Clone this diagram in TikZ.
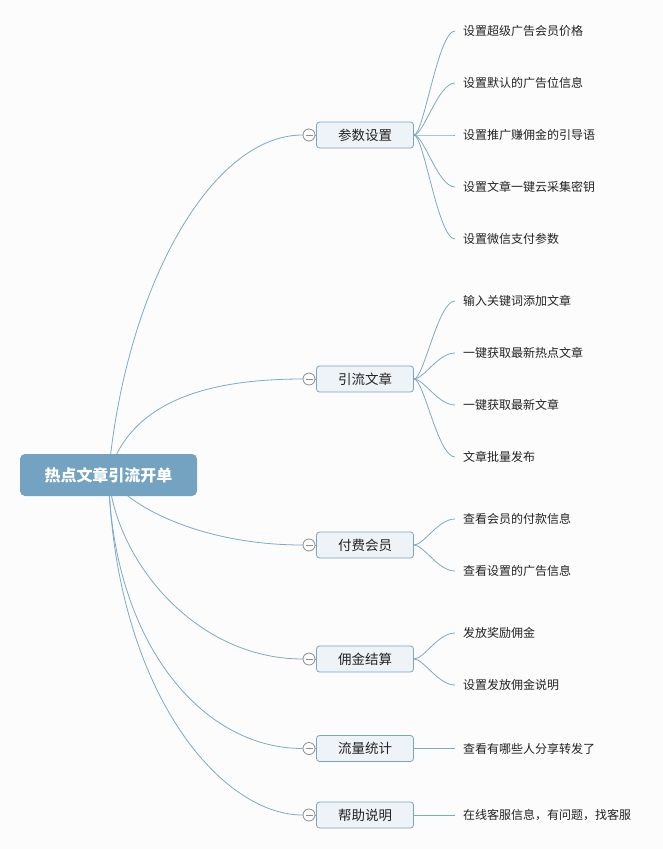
\documentclass[tikz,border=0pt]{standalone}
\usepackage{fontspec}
\setmainfont{Noto Sans CJK SC}
\usetikzlibrary{calc}
\definecolor{linec}{HTML}{7FA8C6}
\definecolor{rootc}{HTML}{74A3C2}
\definecolor{boxfill}{HTML}{EEF3F7}
\definecolor{boxdraw}{HTML}{7BA4C3}
\definecolor{circc}{HTML}{8C8C8C}
\definecolor{txt}{HTML}{222222}
\definecolor{bgc}{HTML}{FCFCFC}
\pgfdeclarelayer{bglayer}
\pgfdeclarelayer{connlayer}
\pgfsetlayers{bglayer,connlayer,main}
\begin{document}
\begin{tikzpicture}[x=1pt,y=-1pt,
 conn/.style={draw=linec,line width=0.8pt},
 rootbox/.style={rounded corners=5pt,fill=rootc,text=white,minimum width=177pt,minimum height=42pt,font=\fontsize{16}{18}\selectfont\bfseries,inner sep=0pt},
 branchbox/.style={rounded corners=3pt,draw=boxdraw,fill=boxfill,line width=0.8pt,minimum width=97pt,minimum height=26pt,font=\fontsize{13.5}{15}\selectfont,text=txt,inner sep=0pt},
 togglec/.style={circle,draw=circc,fill=white,line width=0.8pt,minimum size=12pt,inner sep=0pt,
   path picture={\draw[circc,line width=0.7pt] ($(path picture bounding box.west)+(2.5pt,0)$) -- ($(path picture bounding box.east)+(-2.5pt,0)$);}},
 leaf/.style={anchor=west,font=\fontsize{12}{14}\selectfont,text=txt,inner xsep=8pt,inner ysep=2pt}
]
\begin{pgfonlayer}{bglayer}
\fill[bgc] (0,0) rectangle (663,849);
\end{pgfonlayer}
\useasboundingbox (0,0) rectangle (663,849);

% root
\node[rootbox] (root) at (108.5,475) {热点文章引流开单};

% branches
\node[branchbox] (b1) at (365,135) {参数设置};
\node[branchbox] (b2) at (365,379) {引流文章};
\node[branchbox] (b3) at (365,545) {付费会员};
\node[branchbox] (b4) at (365,659) {佣金结算};
\node[branchbox] (b5) at (365,748.5) {流量统计};
\node[branchbox] (b6) at (365,815) {帮助说明};

\node[togglec] (t1) at (309,135) {};
\node[togglec] (t2) at (309,379) {};
\node[togglec] (t3) at (309,545) {};
\node[togglec] (t4) at (309,659) {};
\node[togglec] (t5) at (309,748.5) {};
\node[togglec] (t6) at (309,815) {};

% leaves
\node[leaf] (l11) at (455,31) {设置超级广告会员价格};
\node[leaf] (l12) at (455,83) {设置默认的广告位信息};
\node[leaf] (l13) at (455,135) {设置推广赚佣金的引导语};
\node[leaf] (l14) at (455,187) {设置文章一键云采集密钥};
\node[leaf] (l15) at (455,239) {设置微信支付参数};

\node[leaf] (l21) at (455,301) {输入关键词添加文章};
\node[leaf] (l22) at (455,353) {一键获取最新热点文章};
\node[leaf] (l23) at (455,405) {一键获取最新文章};
\node[leaf] (l24) at (455,457) {文章批量发布};

\node[leaf] (l31) at (455,519) {查看会员的付款信息};
\node[leaf] (l32) at (455,571) {查看设置的广告信息};

\node[leaf] (l41) at (455,633) {发放奖励佣金};
\node[leaf] (l42) at (455,685) {设置发放佣金说明};

\node[leaf] (l51) at (455,748.5) {查看有哪些人分享转发了};
\node[leaf] (l61) at (455,815) {在线客服信息，有问题，找客服};

\begin{pgfonlayer}{connlayer}
% root to branches
\draw[conn] (root.center) .. controls (125,290) and (210,135) .. (t1.west);
\draw[conn] (root.center) .. controls (130,400) and (210,379) .. (t2.west);
\draw[conn] (root.center) .. controls (125,505) and (200,545) .. (t3.west);
\draw[conn] (root.center) .. controls (115,560) and (195,659) .. (t4.west);
\draw[conn] (root.center) .. controls (112,640) and (200,748.5) .. (t5.west);
\draw[conn] (root.center) .. controls (115,690) and (220,815) .. (t6.west);
% toggles to boxes
\foreach \i in {1,...,6} {\draw[conn] (t\i.east) -- (b\i.west);}
% branch to leaves
\foreach \l in {l11,l12,l13,l14,l15} {\draw[conn] (b1.east) .. controls +(10,0) and +(-17,0) .. (\l.west);}
\foreach \l in {l21,l22,l23,l24} {\draw[conn] (b2.east) .. controls +(10,0) and +(-17,0) .. (\l.west);}
\foreach \l in {l31,l32} {\draw[conn] (b3.east) .. controls +(10,0) and +(-17,0) .. (\l.west);}
\foreach \l in {l41,l42} {\draw[conn] (b4.east) .. controls +(10,0) and +(-17,0) .. (\l.west);}
\draw[conn] (b5.east) -- (l51.west);
\draw[conn] (b6.east) -- (l61.west);
\end{pgfonlayer}
\end{tikzpicture}
\end{document}
